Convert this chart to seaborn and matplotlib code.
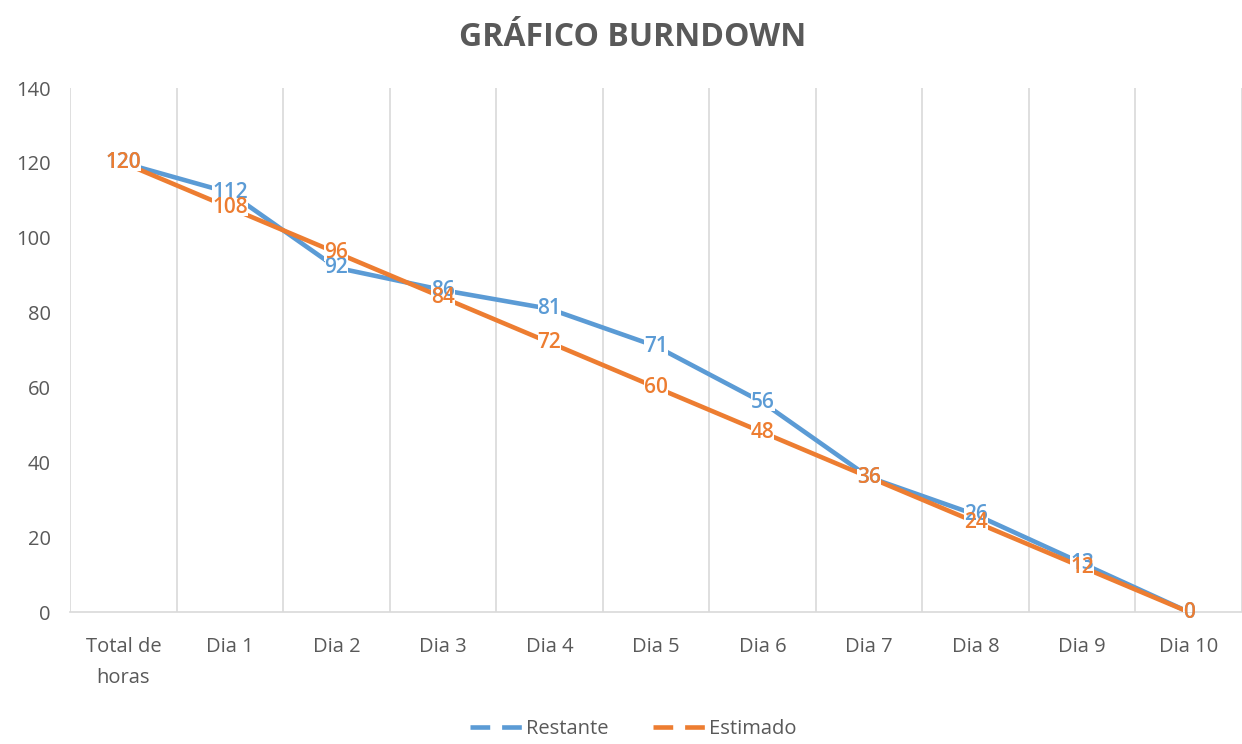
import pandas as pd
import matplotlib.pyplot as plt
import seaborn as sns
from matplotlib.lines import Line2D
from matplotlib.patches import Rectangle

# Data
dias = ['Total de\nhoras', 'Dia 1', 'Dia 2', 'Dia 3', 'Dia 4', 'Dia 5',
        'Dia 6', 'Dia 7', 'Dia 8', 'Dia 9', 'Dia 10']
restante = [120, 112, 92, 86, 81, 71, 56, 36, 26, 13, 0]
estimado = [120, 108, 96, 84, 72, 60, 48, 36, 24, 12, 0]
series = ['Restante', 'Estimado']
cores = ['#5B9BD5', '#ED7D31']

df = pd.DataFrame({
    'pos': list(range(len(dias))) * 2,
    'horas': restante + estimado,
    'serie': ['Restante'] * len(dias) + ['Estimado'] * len(dias),
})

sns.set_style('white')
plt.rcParams['font.family'] = ['Open Sans', 'DejaVu Sans']
texto = '#595959'

fig = plt.figure(figsize=(12.42, 7.44), dpi=100)
ax = fig.add_axes([0.0564, 0.1774, 0.9436, 0.7043])

sns.lineplot(data=df, x='pos', y='horas', hue='serie', palette=cores,
             hue_order=series, linewidth=3.3, sort=False, legend=False, ax=ax,
             zorder=3)

ax.set_xlim(-0.5, len(dias) - 0.5)
ax.set_ylim(0, 140)

# data labels centered on the points
rotulos = []
for vals, cor, z in [(restante, cores[0], 6), (estimado, cores[1], 7)]:
    for i, v in enumerate(vals):
        rotulos.append(ax.text(i, v, str(v), ha='center', va='center',
                               color=cor, fontsize=15, fontweight='semibold',
                               zorder=z))

# white boxes behind the labels hide the lines only (not the other labels)
fig.canvas.draw()
inv = ax.transAxes.inverted()
for t in rotulos:
    bb = t.get_window_extent().expanded(1.0, 0.8)
    (x0, y0), (x1, y1) = inv.transform([[bb.x0, bb.y0], [bb.x1, bb.y1]])
    ax.add_patch(Rectangle((x0, y0), x1 - x0, y1 - y0, transform=ax.transAxes,
                           facecolor='white', edgecolor='none', zorder=4))

ax.set_yticks(range(0, 141, 20))
ax.set_xticks(range(len(dias)))
ax.set_xticklabels(dias, fontsize=14.5, color=texto, linespacing=1.75)
ax.tick_params(axis='y', labelsize=14.5, labelcolor=texto, length=0, pad=14)
ax.tick_params(axis='x', length=0, pad=18)

for xb in [i - 0.5 for i in range(len(dias) + 1)]:
    ax.axvline(xb, color='#D9D9D9', linewidth=1.2, zorder=1)

for s in ['top', 'right', 'left']:
    ax.spines[s].set_visible(False)
ax.spines['bottom'].set_color('#D9D9D9')
ax.spines['bottom'].set_linewidth(1.2)
ax.set_xlabel('')
ax.set_ylabel('')

fig.suptitle('GRÁFICO BURNDOWN', x=0.509, y=0.972, fontsize=23,
             fontweight='bold', color=texto)

handles = [Line2D([], [], color=c, linewidth=3.3, linestyle=(0, (4.3, 2.6)))
           for c in cores]
fig.legend(handles, series, loc='lower center', bbox_to_anchor=(0.51, -0.018),
           ncol=2, frameon=False, fontsize=14.5, labelcolor=texto,
           handlelength=2.65, handletextpad=0.15, columnspacing=2.2)

fig.savefig('out.png', dpi=100)
